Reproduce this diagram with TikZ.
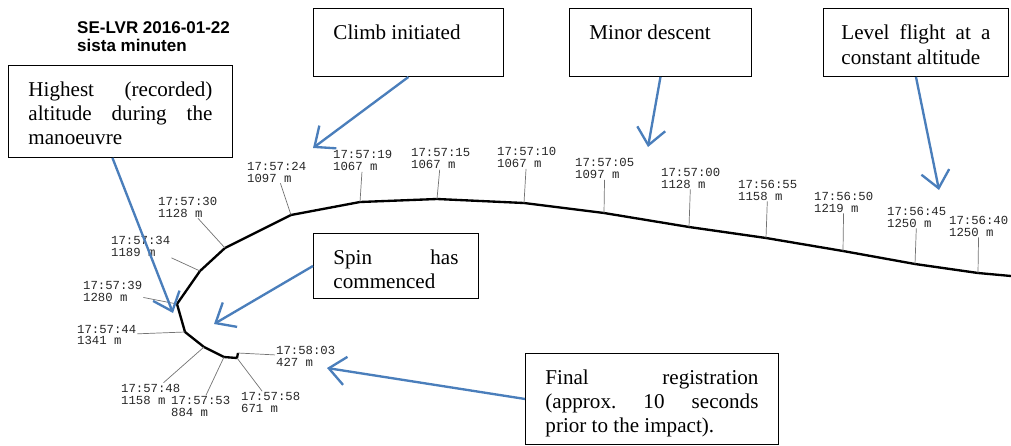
\documentclass[tikz,border=0pt]{standalone}
\usepackage{fontspec}
\setmainfont{Liberation Serif}
\newfontfamily\titlefont{Liberation Sans}
\newfontfamily\stampfont{Liberation Mono}
\usetikzlibrary{arrows.meta}
\definecolor{callout}{RGB}{74,126,187}
\newcommand{\notetext}[3]{\parbox[t][#2][t]{#1}{#3}}

\tikzset{
	note/.style={draw, line width=0.8pt, anchor=north west, inner xsep=0.6cm, inner ysep=0.5cm, font=\fontsize{18}{20.5}\selectfont},
	stamp/.style={anchor=west, align=left, inner sep=0pt, outer sep=1pt, text=black!85, font=\stampfont\fontsize{10.5}{10.2}\selectfont},
	track/.style={line width=2pt, line join=round},
	leader/.style={line width=0.6pt, black!55},
	pointer/.style={line width=2pt, callout, -{Straight Barb[length=0.5cm, width=0.85cm]}}
}

\begin{document}
\begin{tikzpicture}[x=0.03cm, y=-0.03cm]
			\useasboundingbox (0,0) rectangle (1011,445);
			\node[anchor=north west, inner sep=0pt, align=left, font=\titlefont\bfseries\fontsize{14.5}{15.3}\selectfont] (title) at (77,21) {SE-LVR 2016-01-22\\sista minuten};
			% flight path, one point each five seconds
			\coordinate (edge) at (1011,276);
			\coordinate (p40) at (978,273);
			\coordinate (p45) at (915,264);
			\coordinate (p50) at (843,251);
			\coordinate (p55) at (766,238);
			\coordinate (p00) at (689,227);
			\coordinate (p05) at (604,213);
			\coordinate (p10) at (524,203);
			\coordinate (p15) at (437,199);
			\coordinate (p19) at (360,202);
			\coordinate (p24) at (291,215);
			\coordinate (p30) at (225,248);
			\coordinate (p34) at (200,271);
			\coordinate (p39) at (177,304);
			\coordinate (p44) at (185,332);
			\coordinate (p48) at (204,347);
			\coordinate (p53) at (224,357);
			\coordinate (p58) at (237,358);
			\coordinate (p03) at (238,353);
			\draw[track] (edge) -- (p40) -- (p45) -- (p50) -- (p55) -- (p00) -- (p05) -- (p10) -- (p15) -- (p19) -- (p24) -- (p30) -- (p34) -- (p39) -- (p44) -- (p48) -- (p53) -- (p58) -- (p03);
			% time and altitude stamps
			\node[stamp] (t40) at (948,226) {17:56:40\\1250 m};
			\node[stamp] (t45) at (886,217) {17:56:45\\1250 m};
			\node[stamp] (t50) at (813,202) {17:56:50\\1219 m};
			\node[stamp] (t55) at (737,190) {17:56:55\\1158 m};
			\node[stamp] (t00) at (660,178) {17:57:00\\1128 m};
			\node[stamp] (t05) at (574,168.5) {17:57:05\\1097 m};
			\node[stamp] (t10) at (496,157.5) {17:57:10\\1067 m};
			\node[stamp] (t15) at (410,158.5) {17:57:15\\1067 m};
			\node[stamp] (t19) at (332,160.5) {17:57:19\\1067 m};
			\node[stamp] (t24) at (246,172) {17:57:24\\1097 m};
			\node[stamp] (t30) at (157,207) {17:57:30\\1128 m};
			\node[stamp] (t34) at (110,246.5) {17:57:34\\1189 m};
			\node[stamp] (t39) at (82,291.5) {17:57:39\\1280 m};
			\node[stamp] (t44) at (76,335) {17:57:44\\1341 m};
			\node[stamp] (t48) at (120,394) {17:57:48\\1158 m};
			\node[stamp] (t53) at (170,406.5) {17:57:53\\884 m};
			\node[stamp] (t58) at (240,402.5) {17:57:58\\671 m};
			\node[stamp] (t03) at (275,356.5) {17:58:03\\427 m};
			\draw[leader] (p40) -- (t40);
			\draw[leader] (p45) -- (t45);
			\draw[leader] (p50) -- (t50);
			\draw[leader] (p55) -- (t55);
			\draw[leader] (p00) -- (t00);
			\draw[leader] (p05) -- (t05);
			\draw[leader] (p10) -- (t10);
			\draw[leader] (p15) -- (t15);
			\draw[leader] (p19) -- (t19);
			\draw[leader] (p24) -- (t24);
			\draw[leader] (p30) -- (t30);
			\draw[leader] (p34) -- (t34.south east);
			\draw[leader] (p39) -- (t39);
			\draw[leader] (p44) -- (t44);
			\draw[leader] (p48) -- (t48);
			\draw[leader] (p53) -- (t53);
			\draw[leader] (p58) -- (t58);
			\draw[leader] (p03) -- (t03);
			% text boxes
			\node[note] (high) at (8,65) {\notetext{5.52cm}{1.76cm}{Highest\hfill(recorded)\\altitude\hfill during\hfill the\\manoeuvre}};
			\node[note] (climb) at (313,8) {\notetext{4.5cm}{1.04cm}{Climb initiated}};
			\node[note] (minor) at (569,8) {\notetext{4.26cm}{1.04cm}{Minor descent}};
			\node[note, inner xsep=0.54cm] (level) at (823,8) {\notetext{4.47cm}{1.04cm}{Level\hfill flight\hfill at\hfill a\\constant altitude}};
			\node[note] (spin) at (313,233) {\notetext{3.75cm}{0.95cm}{Spin\hfill has\\commenced}};
			\node[note] (final) at (525,353) {\notetext{6.39cm}{1.73cm}{Final\hfill registration\\(approx.\hfill 10\hfill seconds\\prior to the impact).}};
			% arrows
			\coordinate (hightip) at (173,313);
			\coordinate (climbtip) at (313,148);
			\coordinate (minortip) at (648,147);
			\coordinate (leveltip) at (939,190);
			\coordinate (spintip) at (214,324);
			\coordinate (finaltip) at (327,368);
			\draw[pointer] ([xshift=-0.24cm]high.south) -- (hightip);
			\draw[pointer] (climb.south) -- (climbtip);
			\draw[pointer] (minor.south) -- (minortip);
			\draw[pointer] (level.south) -- (leveltip);
			\draw[pointer] (spin.west) -- (spintip);
			\draw[pointer] (final.west) -- (finaltip);
		\end{tikzpicture}
\end{document}
